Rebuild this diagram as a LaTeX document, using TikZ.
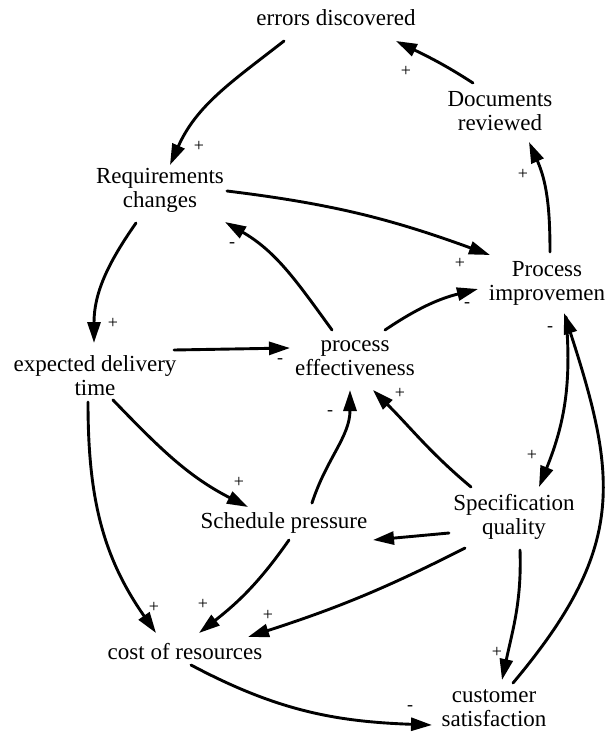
\documentclass[tikz,border=0pt]{standalone}
\usepackage{fontspec}
\setmainfont{Liberation Serif}
\usetikzlibrary{arrows.meta,calc}
\begin{document}
\begin{tikzpicture}[x=1pt,y=1pt,
  var/.style={align=center,font=\fontsize{23}{24}\selectfont,inner sep=0pt},
  link/.style={line width=2.9pt,line cap=round,-{Triangle[length=21pt,width=13pt]}},
  sign/.style={font=\fontsize{18}{18}\selectfont,inner sep=0pt}]
\useasboundingbox (0,0) rectangle (613,-734);

% variables of the causal loop diagram
\node[var] (E) at (336,-18)  {errors discovered};
\node[var] (D) at (500,-111) {Documents\\reviewed};
\node[var] (R) at (160,-190) {Requirements\\changes};
\node[var] (P) at (547,-283) {Process\\improvemen};
\node[var] (T) at (95,-376)  {expected delivery\\time};
\node[var] (F) at (355,-358) {process\\effectiveness};
\node[var] (S) at (284,-523) {Schedule pressure};
\node[var] (Q) at (514,-517) {Specification\\quality};
\node[var] (C) at (185,-652) {cost of resources};
\node[var] (U) at (494,-708) {customer\\satisfaction};

% causal links
\draw[link] ($(E)+(-52,-23)$) to[out=218,in=66] ($(R)+(10,25)$);
\draw[link] ($(D)+(-27,28)$) to[out=147,in=-26] ($(E)+(60,-23)$);
\draw[link] ($(P)+(3,31)$) to[out=90,in=-66] ($(D)+(29,-31)$);
\draw[link] ($(R)+(67,-1)$) to[out=-7,in=160] ($(P)+(-57,28)$);
\draw[link] ($(F)+(-23,28)$) to[out=126,in=-30] ($(R)+(65,-32)$);
\draw[link] ($(F)+(30,28)$) to[out=34,in=194] ($(P)+(-69,-6)$);
\draw[link] ($(R)+(-24,-33)$) to[out=235,in=90] ($(T)+(-1,33)$);
\draw[link] ($(T)+(79,26)$) -- ($(F)+(-65,10)$);
\draw[link] ($(T)+(18,-24)$) to[out=-46,in=153] ($(S)+(-36,16)$);
\draw[link] ($(T)+(-7,-26)$) to[out=-90,in=125] ($(C)+(-29,19)$);
\draw[link] ($(S)+(28,20)$) to[out=72,in=-90] ($(F)+(-5,-32)$);
\draw[link] ($(Q)+(-43,30)$) to[out=140,in=-45] ($(F)+(18,-32)$);
\draw[link] ($(P)+(19,-34)$) to[out=-85,in=68] ($(Q)+(25,30)$);
\draw[link] ($(U)+(19,25)$) to[out=50,in=-72,looseness=1.2] ($(P)+(17,-30)$);
\draw[link] ($(Q)+(-65,-16)$) -- ($(S)+(89,-17)$);
\draw[link] ($(Q)+(-49,-31)$) to[out=207,in=18] ($(C)+(63,15)$);
\draw[link] ($(S)+(5,-17)$) to[out=235,in=38] ($(C)+(14,19)$);
\draw[link] ($(Q)+(6,-33)$) to[out=-88,in=78] ($(U)+(8,28)$);
\draw[link] ($(C)+(6,-13)$) to[out=-28,in=178] ($(U)+(-62,-17)$);

% polarity signs
\node[sign] (s1)  at (199,-146) {+};
\node[sign] (s2)  at (406,-71)  {+};
\node[sign] (s3)  at (523,-174) {+};
\node[sign] (s4)  at (232,-245) {-};
\node[sign] (s5)  at (460,-263) {+};
\node[sign] (s6)  at (467,-305) {-};
\node[sign] (s7)  at (113,-323) {+};
\node[sign] (s8)  at (280,-361) {-};
\node[sign] (s9)  at (550,-329) {-};
\node[sign] (s10) at (400,-393) {+};
\node[sign] (s11) at (330,-413) {-};
\node[sign] (s12) at (532,-455) {+};
\node[sign] (s13) at (239,-482) {+};
\node[sign] (s14) at (154,-607) {+};
\node[sign] (s15) at (203,-604) {+};
\node[sign] (s16) at (268,-615) {+};
\node[sign] (s17) at (497,-652) {+};
\node[sign] (s18) at (410,-708) {-};
\end{tikzpicture}
\end{document}
